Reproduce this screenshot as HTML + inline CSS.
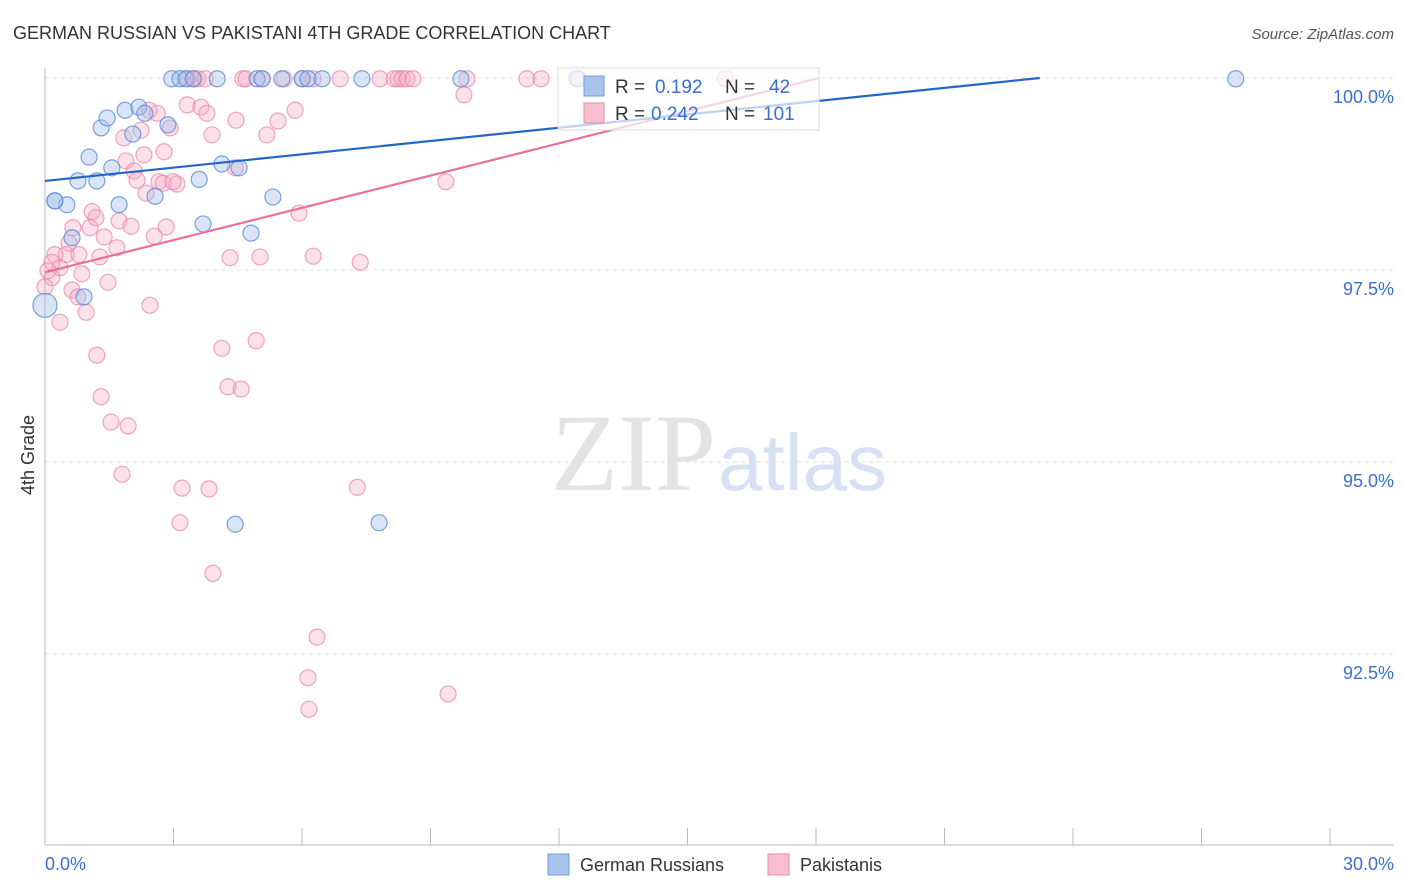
<!DOCTYPE html>
<html><head><meta charset="utf-8"><style>
body{margin:0;background:#fff;font-family:"Liberation Sans",sans-serif;}
svg{display:block}
</style></head><body>
<svg id="c" width="1406" height="892">
<text x="13" y="39" font-size="18" fill="#333">GERMAN RUSSIAN VS PAKISTANI 4TH GRADE CORRELATION CHART</text>
<text x="1394" y="39" font-size="15" fill="#555" font-style="italic" text-anchor="end">Source: ZipAtlas.com</text>
<text x="716" y="490" font-size="110" fill="#e3e3e3" text-anchor="end" font-family="Liberation Serif,serif">ZIP</text>
<text x="718" y="490" font-size="80" fill="#d6e2f3">atlas</text>
<text x="34" y="455" font-size="18" fill="#333" transform="rotate(-90 34 455)" text-anchor="middle">4th Grade</text>
<g id="grid"></g><g id="pts"></g><g id="lines"></g>
<g>
<rect x="558" y="68" width="261" height="62" fill="#fff" fill-opacity="0.7" stroke="#ddd"/>
<rect x="584" y="76" width="20" height="20" fill="#a9c4ec" stroke="#6f9ee0"/>
<rect x="584" y="103" width="20" height="20" fill="#f7bfd0" stroke="#e88aa8"/>
<text x="615" y="93" font-size="19" fill="#333">R =</text>
<text x="655" y="93" font-size="19" fill="#3a6fd0">0.192</text>
<text x="725" y="93" font-size="19" fill="#333">N =</text>
<text x="769" y="93" font-size="19" fill="#3a6fd0">42</text>
<text x="615" y="120" font-size="19" fill="#333">R =</text>
<text x="651" y="120" font-size="19" fill="#3a6fd0">0.242</text>
<text x="725" y="120" font-size="19" fill="#333">N =</text>
<text x="763" y="120" font-size="19" fill="#3a6fd0">101</text>
</g>
<g>
<rect x="548" y="854" width="21" height="21" fill="#a9c4ec" stroke="#6f9ee0"/>
<text x="580" y="871" font-size="18" fill="#333">German Russians</text>
<rect x="768" y="854" width="21" height="21" fill="#f7bfd0" stroke="#e88aa8"/>
<text x="800" y="871" font-size="18" fill="#333">Pakistanis</text>
</g>
</svg>
<script>
const blueX=[2.96,3.15,3.29,3.46,4.02,4.95,5.07,5.53,6.00,6.14,6.47,7.40,9.71,12.42,27.80,0.23,0.51,0.77,1.21,1.03,1.31,1.45,1.56,1.87,2.19,2.33,2.05,2.87,2.57,1.73,3.60,3.69,4.13,4.53,4.81,5.32,0.63,0.91,0,4.44,7.80,0.23];
const blueY=[99.99,99.99,99.99,99.99,99.99,99.99,99.99,99.99,99.99,99.99,99.99,99.99,99.99,99.99,99.99,98.40,98.35,98.66,98.66,98.97,99.35,99.48,98.83,99.58,99.62,99.54,99.27,99.39,98.46,98.35,98.68,98.10,98.88,98.83,97.98,98.45,97.92,97.15,97.04,94.19,94.21,98.40];
const pinkX=[3.34,3.48,3.57,3.74,4.62,4.69,5.07,5.58,6.02,6.26,6.89,7.82,8.15,8.24,8.34,8.45,8.59,9.85,11.25,11.58,12.45,15.88,9.78,3.32,3.64,3.78,5.84,2.62,2.43,1.84,2.24,2.92,4.46,5.44,5.18,3.90,1.89,2.31,2.78,2.08,2.15,2.66,2.76,3.08,2.99,2.36,4.44,9.36,5.93,1.10,1.19,0.65,1.05,1.73,2.01,2.83,1.38,2.55,1.68,1.28,0.56,0.49,0.79,0.23,0.35,0.16,0.07,0.16,0.86,1.47,0,0.63,0.77,0.96,0.35,2.45,4.32,5.02,6.26,7.36,4.93,4.13,1.21,4.27,4.58,1.31,1.54,1.94,1.80,3.20,3.83,7.29,3.15,3.92,6.35,6.14,6.16,9.41];
const pinkY=[99.99,99.99,99.99,99.99,99.99,99.99,99.99,99.99,99.99,99.99,99.99,99.99,99.99,99.99,99.99,99.99,99.99,99.99,99.99,99.99,99.99,99.99,99.78,99.65,99.62,99.54,99.58,99.54,99.58,99.22,99.32,99.35,99.45,99.44,99.26,99.26,98.92,99.00,99.04,98.79,98.67,98.65,98.63,98.62,98.65,98.50,98.83,98.65,98.24,98.26,98.18,98.05,98.05,98.14,98.07,98.06,97.93,97.94,97.79,97.67,97.85,97.70,97.70,97.70,97.53,97.60,97.49,97.40,97.45,97.34,97.28,97.24,97.15,96.95,96.82,97.04,97.66,97.67,97.68,97.60,96.58,96.48,96.39,95.98,95.95,95.85,95.52,95.47,94.84,94.66,94.65,94.67,94.21,93.55,92.72,92.19,91.78,91.98];
const yTicks=[100,97.5,95,92.5];
const yTickLabels=["100.0%","97.5%","95.0%","92.5%"];
const xTicks=[0,3,6,9,12,15,18,21,24,27,30];
const blueTrend=[98.66,0.0577];
const pinkTrend=[97.47,0.14];
const NS='http://www.w3.org/2000/svg';
const sx=v=>45+v*1285/30, sy=v=>78+(100-v)*76.8;
function mk(t,a,p){const e=document.createElementNS(NS,t);for(const k in a)e.setAttribute(k,a[k]);p.appendChild(e);return e;}
const g=document.getElementById('grid');
yTicks.forEach((v,i)=>{
 const l=mk('line',{x1:45,x2:1394,y1:sy(v),y2:sy(v),stroke:'#e2e2e2','stroke-dasharray':'4,4'},g);
 
 
 const t=mk('text',{x:1394,y:sy(v)+25,'font-size':18,fill:'#3a6fd0','text-anchor':'end'},g);t.textContent=yTickLabels[i];
 
 
});
let a=mk('line',{x1:45,x2:45,y1:68,y2:845,stroke:'#bbb'},g);


a=mk('line',{x1:45,x2:1394,y1:845,y2:845,stroke:'#bbb'},g);


xTicks.forEach(v=>{const l=mk('line',{x1:sx(v),x2:sx(v),y1:828,y2:845,stroke:'#bbb'},g);
 
 });
let t=mk('text',{x:45,y:870,'font-size':18,fill:'#3a6fd0'},g);t.textContent='0.0%';


t=mk('text',{x:1394,y:870,'font-size':18,fill:'#3a6fd0','text-anchor':'end'},g);t.textContent='30.0%';


const p=document.getElementById('pts');
pinkX.forEach((x,i)=>{const c=mk('circle',{cx:sx(x),cy:sy(pinkY[i]),r:8,fill:'rgba(245,170,195,0.35)',stroke:'rgba(232,130,165,0.7)','stroke-width':1.2},p);
 
 });
blueX.forEach((x,i)=>{const c=mk('circle',{cx:sx(x),cy:sy(blueY[i]),r:i==38?12:8,fill:'rgba(160,190,236,0.4)',stroke:'rgba(90,140,215,0.8)','stroke-width':1.2},p);
 
 });
const L=document.getElementById('lines');
function trend(tr,col,name){const xe=(100-tr[0])/tr[1];
 const l=mk('line',{x1:sx(0),y1:sy(tr[0]),x2:sx(xe),y2:sy(100),stroke:col,'stroke-width':2.2},L);
 
 }
trend(pinkTrend,'#e8709a','pakistani-trend-line');
trend(blueTrend,'#2266cc','german-russian-trend-line');
</script>
</body></html>
